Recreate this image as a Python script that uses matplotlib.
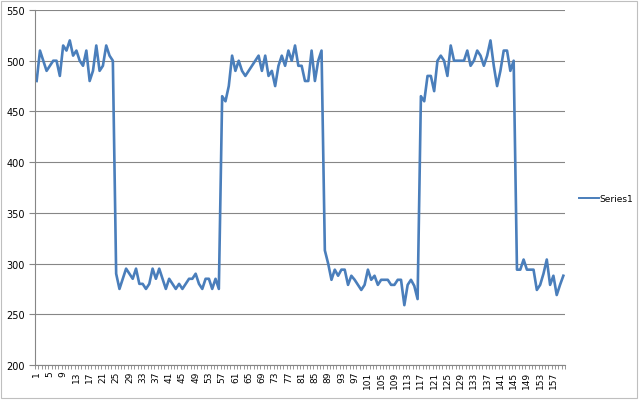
import numpy as np
import matplotlib
matplotlib.use("Agg")
import matplotlib.pyplot as plt
from matplotlib.patches import Rectangle

# values, one per category (1..160)
high_1 = [480, 510, 500, 490, 495, 500, 500, 485, 515, 510, 520, 505,
          510, 500, 495, 510, 480, 490, 515, 490, 495, 515, 505, 500]
low_1 = [290, 275, 285, 295, 290, 285, 295, 280, 280, 275, 280, 295,
         285, 295, 285, 275, 285, 280, 275, 280, 275, 280, 285, 285,
         290, 280, 275, 285, 285, 275, 285, 275]
high_2 = [465, 460, 475, 505, 490, 500, 490, 485, 490, 495, 500, 505,
          490, 505, 485, 490, 475, 495, 505, 495, 510, 500, 515, 495,
          495, 480, 480, 510, 480, 500, 510]
low_2 = [313, 300, 284, 294, 288, 294, 294, 279, 288, 284, 279, 274,
         279, 294, 284, 288, 279, 284, 284, 284, 279, 279, 284, 284,
         259, 279, 284, 278, 265]
high_3 = [465, 460, 485, 485, 470, 500, 505, 500, 485, 515, 500, 500,
          500, 500, 510, 495, 500, 510, 505, 495, 505, 520, 495, 475,
          490, 510, 510, 490, 500]
low_3 = [294, 294, 304, 294, 294, 294, 274, 279, 290, 304, 279, 288,
         269, 279, 288]

series1 = high_1 + low_1 + high_2 + low_2 + high_3 + low_3
categories = np.arange(1, len(series1) + 1)
tick_labels = categories[::4]

grey = "#868686"
blue = "#4A7EBB"

fig = plt.figure(figsize=(6.4, 4.02), dpi=100)
fig.patches.append(Rectangle((0.002, 0.008), 0.993, 0.986, transform=fig.transFigure,
                             fill=False, edgecolor="#BFBFBF", linewidth=0.8))
ax = fig.add_axes([35 / 640, 1 - 366 / 402, 530 / 640, 355 / 402])

ax.plot(categories, series1, color=blue, linewidth=1.9, label="Series1",
        solid_joinstyle="round")

ax.set_xlim(0.5, len(series1) + 0.5)
ax.set_ylim(200, 550)
ax.set_yticks(np.arange(200, 551, 50))
ax.yaxis.grid(True, color=grey, linewidth=0.8)
ax.set_axisbelow(True)

ax.set_xticks(tick_labels)
ax.set_xticklabels([str(c) for c in tick_labels], rotation=90, fontsize=6.5)
ax.set_xticks(np.arange(0.5, len(series1) + 1), minor=True)
ax.tick_params(axis="x", which="major", length=0, pad=4)
ax.tick_params(axis="x", which="minor", length=3, color=grey, width=0.6)
ax.tick_params(axis="y", length=4, color=grey, width=0.8, labelsize=7)

for side in ["top", "right"]:
    ax.spines[side].set_visible(False)
for side in ["left", "bottom"]:
    ax.spines[side].set_color(grey)
    ax.spines[side].set_linewidth(0.8)

leg = fig.legend(loc="center left", bbox_to_anchor=(579 / 640, 1 - 200 / 402),
                 frameon=False, fontsize=6.5, handlelength=2.2, handletextpad=0.1,
                 borderpad=0, borderaxespad=0)
for line in leg.get_lines():
    line.set_linewidth(1.4)

fig.savefig("out.png", dpi=100)
